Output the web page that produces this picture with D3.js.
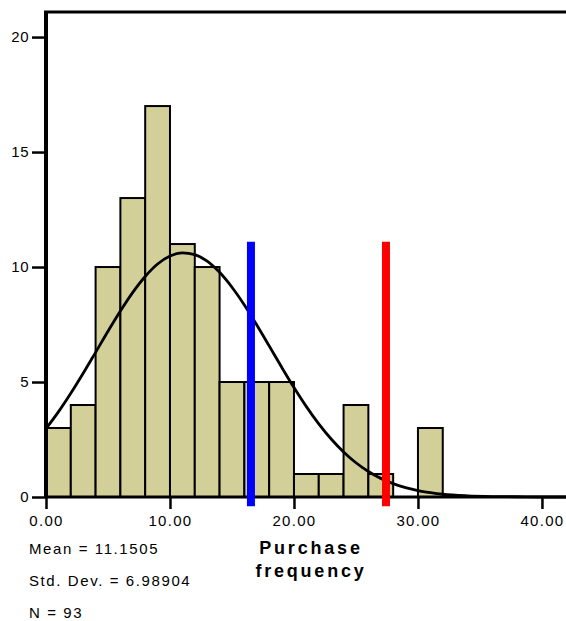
<!DOCTYPE html>
<html>
<head>
<meta charset="utf-8">
<script src="https://cdn.jsdelivr.net/npm/d3@7"></script>
<style>
  body { margin: 0; background: #fff; }
  svg { display: block; font-family: "Liberation Sans", Arial, sans-serif; }
</style>
</head>
<body>
<svg id="chart" width="566" height="621"></svg>
<script>
// histogram bins (lower edge) and counts
const binStarts = [0, 2, 4, 6, 8, 10, 12, 14, 16, 18, 20, 22, 24, 26, 28, 30];
const binWidth = 2;
const counts = [3, 4, 10, 13, 17, 11, 10, 5, 5, 5, 1, 1, 4, 1, 0, 3];

// normal curve
const curveX = [0, 1, 2, 3, 4, 5, 6, 7, 8, 9, 10, 11, 12, 13, 14, 15, 16, 17, 18, 19, 20,
  21, 22, 23, 24, 25, 26, 27, 28, 29, 30, 31, 32, 34, 36, 38, 40, 42];
const curveY = [2.97, 3.7, 4.51, 5.38, 6.29, 7.21, 8.09, 8.9, 9.59, 10.13, 10.48, 10.62, 10.54,
  10.26, 9.77, 9.12, 8.35, 7.48, 6.57, 5.65, 4.76, 3.93, 3.18, 2.52, 1.96, 1.49, 1.11, 0.81,
  0.58, 0.41, 0.28, 0.19, 0.12, 0.05, 0.02, 0.01, 0, 0];

// reference lines
const refLines = [
  { x: 16.53, color: "#0000ff" },
  { x: 27.42, color: "#ff0000" }
];
const refTop = 11.1;
const refBottom = -0.4;

const xTicks = [0, 10, 20, 30, 40];
const yTicks = [0, 5, 10, 15, 20];
const statLines = ["Mean = 11.1505", "Std. Dev. = 6.98904", "N = 93"];
const axisTitle = ["Purchase", "frequency"];

const svg = d3.select("#chart");
const plotLeft = 46, plotRight = 566, plotTop = 12, plotBottom = 497;

const x = d3.scaleLinear().domain([0, 41.94]).range([plotLeft, plotRight]);
const y = d3.scaleLinear().domain([0, 21.09]).range([plotBottom, plotTop]);

// bars
svg.append("g").selectAll("rect")
  .data(counts.map((c, i) => ({ x0: binStarts[i], c })).filter(d => d.c > 0))
  .join("rect")
  .attr("x", d => x(d.x0))
  .attr("y", d => y(d.c))
  .attr("width", d => x(d.x0 + binWidth) - x(d.x0))
  .attr("height", d => y(0) - y(d.c))
  .attr("fill", "#d3cf99")
  .attr("stroke", "#000")
  .attr("stroke-width", 2);

// normal curve
const line = d3.line()
  .x(d => x(d[0]))
  .y(d => y(d[1]))
  .curve(d3.curveMonotoneX);

svg.append("path")
  .attr("d", line(curveX.map((v, i) => [v, curveY[i]])))
  .attr("fill", "none")
  .attr("stroke", "#000")
  .attr("stroke-width", 2.8);

// axes
const xAxis = d3.axisBottom(x).tickValues(xTicks).tickFormat(d3.format(".2f"))
  .tickSizeOuter(0).tickSizeInner(12).tickPadding(6);
const gx = svg.append("g").attr("transform", `translate(0,${plotBottom})`).call(xAxis);
gx.select(".domain").attr("stroke-width", 3).attr("d", `M${plotLeft},0H${plotRight}`);
gx.selectAll(".tick line").attr("stroke-width", 2.5);
gx.selectAll(".tick text")
  .attr("font-size", 15).attr("letter-spacing", 1.3).attr("fill", "#000")
  .attr("font-family", "Liberation Sans, Arial, sans-serif");

const yAxis = d3.axisLeft(y).tickValues(yTicks)
  .tickSizeOuter(0).tickSizeInner(14).tickPadding(3);
const gy = svg.append("g").attr("transform", `translate(${plotLeft},0)`).call(yAxis);
gy.select(".domain").attr("stroke-width", 4).attr("d", `M0,${plotBottom}V${plotTop}`);
gy.selectAll(".tick line").attr("stroke-width", 2.5);
gy.selectAll(".tick text")
  .attr("font-size", 15).attr("letter-spacing", 0.5).attr("fill", "#000")
  .attr("font-family", "Liberation Sans, Arial, sans-serif");

// top frame
svg.append("line")
  .attr("x1", plotLeft - 2).attr("x2", plotRight)
  .attr("y1", plotTop).attr("y2", plotTop)
  .attr("stroke", "#000").attr("stroke-width", 3);

// reference lines
svg.append("g").selectAll("line")
  .data(refLines)
  .join("line")
  .attr("x1", d => x(d.x)).attr("x2", d => x(d.x))
  .attr("y1", y(refTop)).attr("y2", y(refBottom))
  .attr("stroke", d => d.color)
  .attr("stroke-width", 8);

// statistics
svg.append("g").selectAll("text")
  .data(statLines)
  .join("text")
  .attr("x", 29)
  .attr("y", (d, i) => 554 + i * 32)
  .attr("font-size", 15)
  .attr("letter-spacing", 1.6)
  .text(d => d);

// axis title
svg.append("g").selectAll("text")
  .data(axisTitle)
  .join("text")
  .attr("x", 311)
  .attr("y", (d, i) => 554 + i * 23)
  .attr("text-anchor", "middle")
  .attr("font-size", 18)
  .attr("font-weight", "bold")
  .attr("letter-spacing", 2.8)
  .text(d => d);
</script>
</body>
</html>
